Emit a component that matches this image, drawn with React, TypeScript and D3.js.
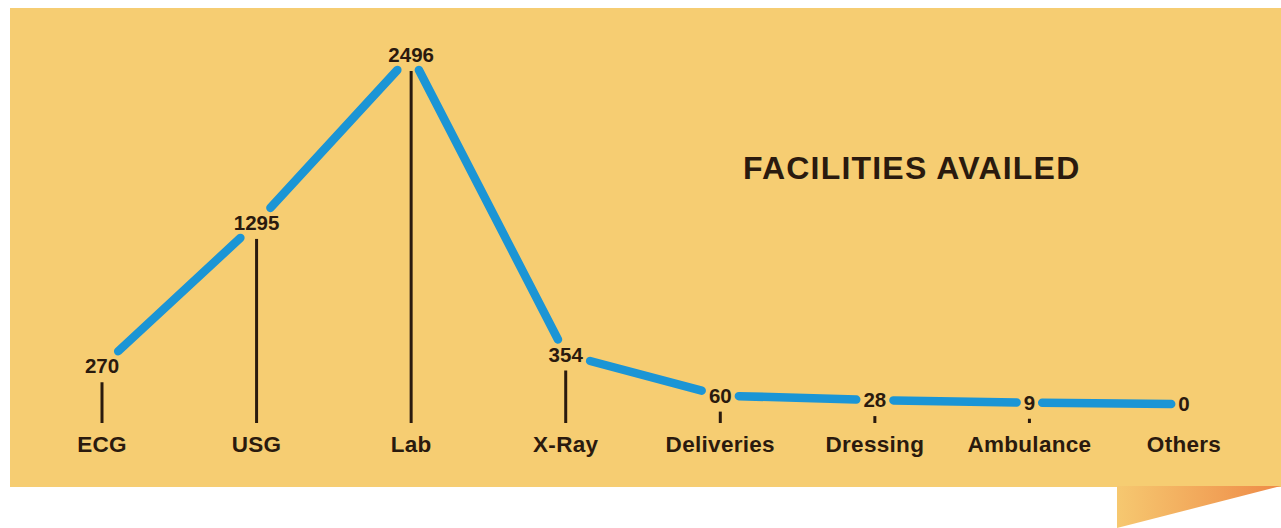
import React from "react";
import * as d3 from "d3";

const categories = ["ECG", "USG", "Lab", "X-Ray", "Deliveries", "Dressing", "Ambulance", "Others"];
const values = [270, 1295, 2496, 354, 60, 28, 9, 0];
const title = "FACILITIES AVAILED";

const W = 1281;
const H = 528;
const BG = "#f6cd72";
const BLUE = "#1b95d5";
const INK = "#2a1a0e";
const FONT = "'Liberation Sans', Arial, Helvetica, sans-serif";

export default function App() {
  const x = d3.scalePoint<string>().domain(categories).range([102, 1184]);
  const y = d3.scaleLinear().domain([0, 2496]).range([419, 70]);
  const stemBottom = 423;

  const pts = categories.map((c, i) => {
    const v = values[i];
    const label = String(v);
    const cx = x(c) as number;
    const base = y(v) - 8;
    return { c, v, label, cx, base, cy: base - 7, hw: label.length * 5.8 + 7, hh: 15 };
  });

  const segs: { x1: number; y1: number; x2: number; y2: number }[] = [];
  for (let i = 0; i < pts.length - 1; i++) {
    const a = pts[i];
    const b = pts[i + 1];
    const dx = b.cx - a.cx;
    const dy = b.cy - a.cy;
    const len = Math.hypot(dx, dy);
    const ux = dx / len;
    const uy = dy / len;
    const tA = Math.min(a.hw / Math.abs(ux || 1e-6), a.hh / Math.abs(uy || 1e-6));
    const tB = Math.min(b.hw / Math.abs(ux || 1e-6), b.hh / Math.abs(uy || 1e-6));
    segs.push({
      x1: a.cx + ux * tA,
      y1: a.cy + uy * tA,
      x2: b.cx - ux * tB,
      y2: b.cy - uy * tB,
    });
  }

  const line = d3.line<[number, number]>();

  return (
    <svg
      width={W}
      height={H}
      style={{ position: "fixed", left: 0, top: 0, background: "#ffffff" }}
    >
      <defs>
        <linearGradient id="fold" x1="0" y1="0" x2="1" y2="0">
          <stop offset="0" stopColor="#f6c870" />
          <stop offset="1" stopColor="#ee8a47" />
        </linearGradient>
      </defs>
      <rect x={10} y={8} width={W - 10} height={479} fill={BG} />
      <path d="M1117,486 L1281,486 L1117,528 Z" fill="url(#fold)" />

      <text
        x={743}
        y={179}
        fontFamily={FONT}
        fontWeight="bold"
        fontSize={32}
        fill={INK}
        letterSpacing={1.2}
      >
        {title}
      </text>

      {pts
        .filter((p) => p.v > 0)
        .map((p) => (
          <line
            key={"s" + p.c}
            x1={p.cx}
            x2={p.cx}
            y1={y(p.v) + 1}
            y2={stemBottom}
            stroke={INK}
            strokeWidth={3}
          />
        ))}

      {segs.map((s, i) => (
        <path
          key={"l" + i}
          d={line([
            [s.x1, s.y1],
            [s.x2, s.y2],
          ]) as string}
          stroke={BLUE}
          strokeWidth={8.5}
          strokeLinecap="round"
          fill="none"
        />
      ))}

      {pts.map((p) => (
        <text
          key={"v" + p.c}
          x={p.cx}
          y={p.base}
          textAnchor="middle"
          fontFamily={FONT}
          fontWeight="bold"
          fontSize={20.5}
          fill={INK}
        >
          {p.label}
        </text>
      ))}

      {pts.map((p) => (
        <text
          key={"c" + p.c}
          x={p.cx}
          y={452}
          textAnchor="middle"
          fontFamily={FONT}
          fontWeight="bold"
          fontSize={22.5}
          fill={INK}
          letterSpacing={0.3}
        >
          {p.c}
        </text>
      ))}
    </svg>
  );
}
